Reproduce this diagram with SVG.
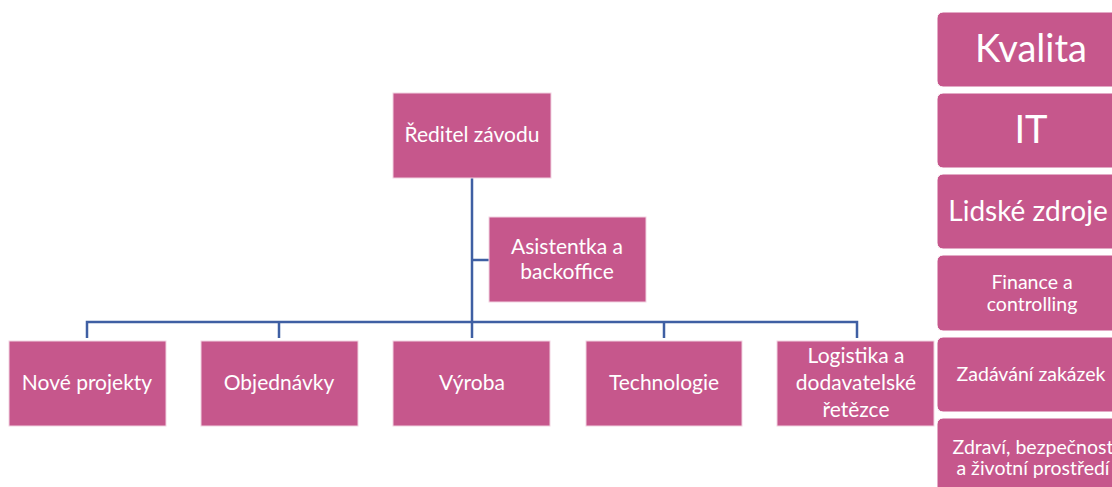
<svg xmlns="http://www.w3.org/2000/svg" width="1112" height="487" viewBox="0 0 1112 487">
<style>
.box{fill:#C6578C;stroke:#F2D3E1;stroke-width:1}
.side{fill:#C6578C;stroke:#FFFFFF;stroke-width:1}
.t{fill:#FFFFFF;font-family:Lato,"Noto Sans","Liberation Sans",sans-serif;text-anchor:middle}
.m{font-size:21px}
.s{font-size:19.5px}
.ln{fill:none;stroke:#3F5FA3;stroke-width:2.5}
</style>
<rect width="1112" height="487" fill="#FFFFFF"/>
<g id="connectors">
<path class="ln" d="M472,178 V322 M472,260 H489 M87,338 V322 H857 V338 M279,322 V338 M664,322 V338 M472,322 V338"/>
</g>
<g id="reditel"><rect class="box" x="393" y="93" width="158" height="85"/><text class="t m" x="472" y="142">Ředitel závodu</text></g>
<g id="asistentka"><rect class="box" x="489" y="217" width="157" height="85"/><text class="t m" x="567" y="254">Asistentka a</text><text class="t m" x="567" y="279">backoffice</text></g>
<g id="nove"><rect class="box" x="9" y="341" width="157" height="85"/><text class="t m" x="87" y="390">Nové projekty</text></g>
<g id="objednavky"><rect class="box" x="201" y="341" width="157" height="85"/><text class="t m" x="279" y="390">Objednávky</text></g>
<g id="vyroba"><rect class="box" x="393" y="341" width="157" height="85"/><text class="t m" x="472" y="390">Výroba</text></g>
<g id="technologie"><rect class="box" x="586" y="341" width="156" height="85"/><text class="t m" x="664" y="390">Technologie</text></g>
<g id="logistika"><rect class="box" x="777" y="341" width="157" height="85"/><text class="t m" x="856" y="363">Logistika a</text><text class="t m" x="856" y="390">dodavatelské</text><text class="t m" x="856" y="417">řetězce</text></g>
<g id="kvalita"><rect class="side" x="937" y="12" width="190" height="75" rx="6"/><text class="t" x="1031" y="62" font-size="38">Kvalita</text></g>
<g id="it"><rect class="side" x="937" y="93" width="190" height="75" rx="6"/><text class="t" x="1031" y="143" font-size="38">IT</text></g>
<g id="lidske"><rect class="side" x="937" y="174" width="190" height="75" rx="6"/><text class="t" x="1028" y="221" font-size="28">Lidské zdroje</text></g>
<g id="finance"><rect class="side" x="937" y="255" width="190" height="76" rx="6"/><text class="t s" x="1032" y="289">Finance a</text><text class="t s" x="1032" y="311">controlling</text></g>
<g id="zadavani"><rect class="side" x="937" y="337" width="190" height="75" rx="6"/><text class="t s" x="1031" y="381">Zadávání zakázek</text></g>
<g id="zdravi"><rect class="side" x="937" y="418" width="190" height="75" rx="6"/><text class="t s" x="1033" y="454">Zdraví, bezpečnost</text><text class="t s" x="1033" y="475">a životní prostředí</text></g>
</svg>
